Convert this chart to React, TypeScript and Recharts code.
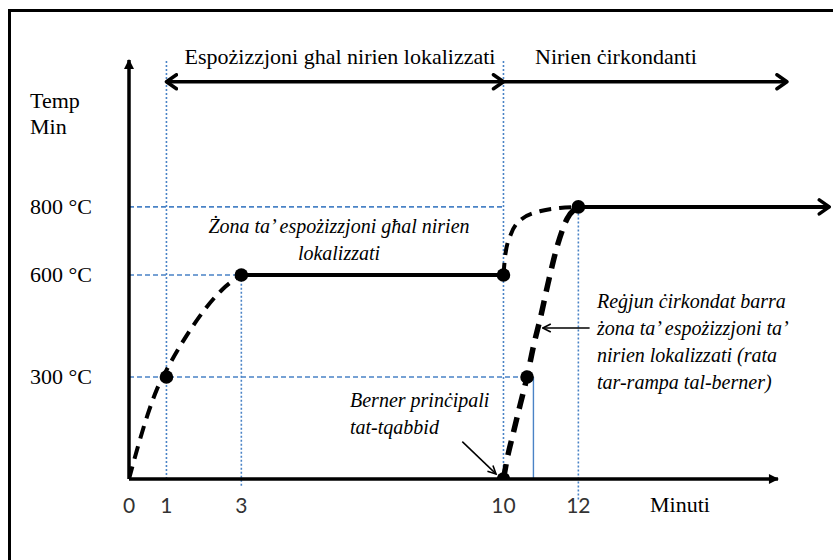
import { ComposedChart, Line, ReferenceLine, Scatter, XAxis, YAxis } from "recharts";

// axis ticks
const minuteTicks = [0, 1, 3, 10, 12];
const tempTicks = [300, 600, 800];

// dashed ramp up to the local-fire exposure level
const rampToLocal = [
  { t: 0, temp: 0 },
  { t: 0.25, temp: 100 },
  { t: 0.5, temp: 190 },
  { t: 0.75, temp: 265 },
  { t: 1, temp: 320 },
  { t: 1.5, temp: 415 },
  { t: 2, temp: 495 },
  { t: 2.5, temp: 558 },
  { t: 3, temp: 600 },
];

// solid hold at 600 °C
const localHold = [
  { t: 3, temp: 600 },
  { t: 10, temp: 600 },
];

// outer dashed curve, 600 -> 800 °C
const rampFromLocal = [
  { t: 10, temp: 600 },
  { t: 10.05, temp: 660 },
  { t: 10.2, temp: 720 },
  { t: 10.5, temp: 765 },
  { t: 11, temp: 788 },
  { t: 11.5, temp: 797 },
  { t: 12, temp: 800 },
];

// inner dashed curve, main burner ramp 0 -> 800 °C
const burnerRamp = [
  { t: 10, temp: 0 },
  { t: 10.1, temp: 60 },
  { t: 10.25, temp: 130 },
  { t: 10.45, temp: 220 },
  { t: 10.63, temp: 300 },
  { t: 10.8, temp: 390 },
  { t: 11, temp: 480 },
  { t: 11.2, temp: 580 },
  { t: 11.45, temp: 690 },
  { t: 11.7, temp: 765 },
  { t: 12, temp: 800 },
];

// solid engulfing-fire level, continuing off to the right
const engulfHold = [
  { t: 12, temp: 800 },
  { t: 18.7, temp: 800 },
];

const keyPoints = [
  { t: 1, temp: 300 },
  { t: 3, temp: 600 },
  { t: 10, temp: 600 },
  { t: 10, temp: 0 },
  { t: 10.63, temp: 300 },
  { t: 12, temp: 800 },
];

const X_MAX = 18.8;
const Y_MAX = 1232;
const PHASE_LEVEL = 1168; // height of the phase arrows at the top
const PHASE_END = 17.57;
const X_ARROW_END = 17.33;

const serif = '"Liberation Serif", "DejaVu Serif", serif';
const sans = 'Lato, "Open Sans", sans-serif';
const blue = "#4a83c6";

function MinuteTick({ x, y, payload }: any) {
  return (
    <text x={x} y={y + 34} textAnchor="middle" fontFamily={sans} fontSize={21} fill="#333">
      {payload.value}
    </text>
  );
}

function TempTick({ y, payload }: any) {
  return (
    <text x={30} y={y + 7} fontFamily={serif} fontSize={22} fill="#000">
      {`${payload.value} °C`}
    </text>
  );
}

const arrowLine = (start?: string, end?: string) => (p: any) => (
  <line
    x1={p.x1}
    y1={p.y1}
    x2={p.x2}
    y2={p.y2}
    stroke={p.stroke}
    strokeWidth={p.strokeWidth}
    markerStart={start ? `url(#${start})` : undefined}
    markerEnd={end ? `url(#${end})` : undefined}
  />
);

const dot = (p: any) => <circle cx={p.cx} cy={p.cy} r={6.8} fill="#000" />;

export default function App() {
  return (
    <div style={{ position: "absolute", left: 0, top: 0, width: 833, height: 560, overflow: "hidden", background: "#fff" }}>
      <div style={{ position: "absolute", left: 8, top: 9, width: 900, height: 700, border: "3px solid #000" }} />
      <div style={{ position: "absolute", left: 0, top: 0 }}>
        <ComposedChart width={833} height={560} margin={{ top: 60, right: 0, bottom: 0, left: 0 }}>
          <defs>
            <marker id="chevBig" viewBox="0 0 14 18" refX="12" refY="9" markerWidth="14" markerHeight="18" markerUnits="userSpaceOnUse" orient="auto-start-reverse">
              <path d="M2,2 L12,9 L2,16" fill="none" stroke="#000" strokeWidth={3.5} strokeLinecap="round" strokeLinejoin="round" />
            </marker>
            <marker id="chevSmall" viewBox="0 0 10 10" refX="9" refY="5" markerWidth="10" markerHeight="10" markerUnits="userSpaceOnUse" orient="auto-start-reverse">
              <path d="M1,1 L9,5 L1,9" fill="none" stroke="#000" strokeWidth={1.6} />
            </marker>
            <marker id="tri" viewBox="0 0 10 10" refX="9" refY="5" markerWidth="11" markerHeight="10" markerUnits="userSpaceOnUse" orient="auto-start-reverse">
              <path d="M0,0 L10,5 L0,10 Z" fill="#000" />
            </marker>
          </defs>

          <XAxis
            type="number"
            dataKey="t"
            domain={[0, X_MAX]}
            ticks={minuteTicks}
            interval={0}
            allowDataOverflow
            axisLine={false}
            tickLine={false}
            tickSize={0}
            tickMargin={0}
            height={81}
            tick={<MinuteTick />}
          />
          <YAxis
            type="number"
            dataKey="temp"
            domain={[0, Y_MAX]}
            ticks={tempTicks}
            interval={0}
            allowDataOverflow
            axisLine={false}
            tickLine={false}
            tickSize={0}
            tickMargin={0}
            width={129}
            tick={<TempTick />}
          />

          {/* blue guide lines */}
          <ReferenceLine segment={[{ x: 0, y: 800 }, { x: 10, y: 800 }]} stroke={blue} strokeWidth={1.6} strokeDasharray="5 3" ifOverflow="visible" />
          <ReferenceLine segment={[{ x: 0, y: 600 }, { x: 3, y: 600 }]} stroke={blue} strokeWidth={1.6} strokeDasharray="5 3" ifOverflow="visible" />
          <ReferenceLine segment={[{ x: 0, y: 300 }, { x: 10.63, y: 300 }]} stroke={blue} strokeWidth={1.6} strokeDasharray="5 3" ifOverflow="visible" />
          <ReferenceLine segment={[{ x: 1, y: 0 }, { x: 1, y: Y_MAX }]} stroke={blue} strokeWidth={1.6} strokeDasharray="2 2" ifOverflow="visible" />
          <ReferenceLine segment={[{ x: 3, y: -20 }, { x: 3, y: 600 }]} stroke={blue} strokeWidth={1.6} strokeDasharray="2 2" ifOverflow="visible" />
          <ReferenceLine segment={[{ x: 10, y: 0 }, { x: 10, y: Y_MAX }]} stroke={blue} strokeWidth={1.6} strokeDasharray="2 2" ifOverflow="visible" />
          <ReferenceLine segment={[{ x: 12, y: -60 }, { x: 12, y: 800 }]} stroke={blue} strokeWidth={1.6} strokeDasharray="2 2" ifOverflow="visible" />
          <ReferenceLine segment={[{ x: 10.63, y: 300 }, { x: 10.8, y: 300 }]} stroke={blue} strokeWidth={1.4} ifOverflow="visible" />
          <ReferenceLine segment={[{ x: 10.8, y: 0 }, { x: 10.8, y: 300 }]} stroke={blue} strokeWidth={1.4} ifOverflow="visible" />

          {/* axes with arrow heads */}
          <ReferenceLine segment={[{ x: 0, y: 0 }, { x: X_ARROW_END, y: 0 }]} stroke="#000" strokeWidth={3.5} ifOverflow="visible" shape={arrowLine(undefined, "tri")} />
          <ReferenceLine segment={[{ x: 0, y: 0 }, { x: 0, y: Y_MAX }]} stroke="#000" strokeWidth={3.5} ifOverflow="visible" shape={arrowLine(undefined, "tri")} />

          {/* phase arrows */}
          <ReferenceLine segment={[{ x: 1, y: PHASE_LEVEL }, { x: 10, y: PHASE_LEVEL }]} stroke="#000" strokeWidth={3.5} ifOverflow="visible" shape={arrowLine("chevBig", "chevBig")} />
          <ReferenceLine segment={[{ x: 10, y: PHASE_LEVEL }, { x: PHASE_END, y: PHASE_LEVEL }]} stroke="#000" strokeWidth={3.5} ifOverflow="visible" shape={arrowLine(undefined, "chevBig")} />

          {/* annotation pointers */}
          <ReferenceLine segment={[{ x: 8.9, y: 110 }, { x: 9.8, y: 15 }]} stroke="#000" strokeWidth={1.5} ifOverflow="visible" shape={arrowLine(undefined, "chevSmall")} />
          <ReferenceLine segment={[{ x: 12.3, y: 444 }, { x: 11.05, y: 444 }]} stroke="#000" strokeWidth={1.5} ifOverflow="visible" shape={arrowLine(undefined, "chevSmall")} />

          <Line data={rampToLocal} dataKey="temp" type="monotone" stroke="#000" strokeWidth={4} strokeDasharray="13 8" dot={false} isAnimationActive={false} />
          <Line data={localHold} dataKey="temp" type="linear" stroke="#000" strokeWidth={4} dot={false} isAnimationActive={false} />
          <Line data={rampFromLocal} dataKey="temp" type="monotoneX" stroke="#000" strokeWidth={4} strokeDasharray="12 8" dot={false} isAnimationActive={false} />
          <Line data={burnerRamp} dataKey="temp" type="monotoneX" stroke="#000" strokeWidth={5.5} strokeDasharray="15 9" dot={false} isAnimationActive={false} />
          <Line data={engulfHold} dataKey="temp" type="linear" stroke="#000" strokeWidth={4} dot={false} markerEnd="url(#chevBig)" isAnimationActive={false} />
          <Scatter data={keyPoints} dataKey="temp" fill="#000" shape={dot} isAnimationActive={false} />

          <text fontFamily={serif} fontSize={22} fill="#000">
            <tspan x={30} y={108}>Temp</tspan>
            <tspan x={30} y={134}>Min</tspan>
          </text>
          <text x={340} y={64} textAnchor="middle" fontFamily={serif} fontSize={22} fill="#000">
            Espożizzjoni ghal nirien lokalizzati
          </text>
          <text x={535} y={64} fontFamily={serif} fontSize={22} fill="#000">
            Nirien ċirkondanti
          </text>
          <text x={650} y={512} fontFamily={serif} fontSize={22} fill="#000">
            Minuti
          </text>
          <text textAnchor="middle" fontFamily={serif} fontStyle="italic" fontSize={20} fill="#000">
            <tspan x={339} y={233}>Żona ta’ espożizzjoni għal nirien</tspan>
            <tspan x={339} y={260}>lokalizzati</tspan>
          </text>
          <text fontFamily={serif} fontStyle="italic" fontSize={20} fill="#000">
            <tspan x={350} y={407}>Berner prinċipali</tspan>
            <tspan x={350} y={434}>tat-tqabbid</tspan>
          </text>
          <text fontFamily={serif} fontStyle="italic" fontSize={20} fill="#000">
            <tspan x={597} y={308}>Reġjun ċirkondat barra</tspan>
            <tspan x={597} y={335}>żona ta’ espożizzjoni ta’</tspan>
            <tspan x={597} y={362}>nirien lokalizzati (rata</tspan>
            <tspan x={597} y={389}>tar-rampa tal-berner)</tspan>
          </text>
        </ComposedChart>
      </div>
    </div>
  );
}
